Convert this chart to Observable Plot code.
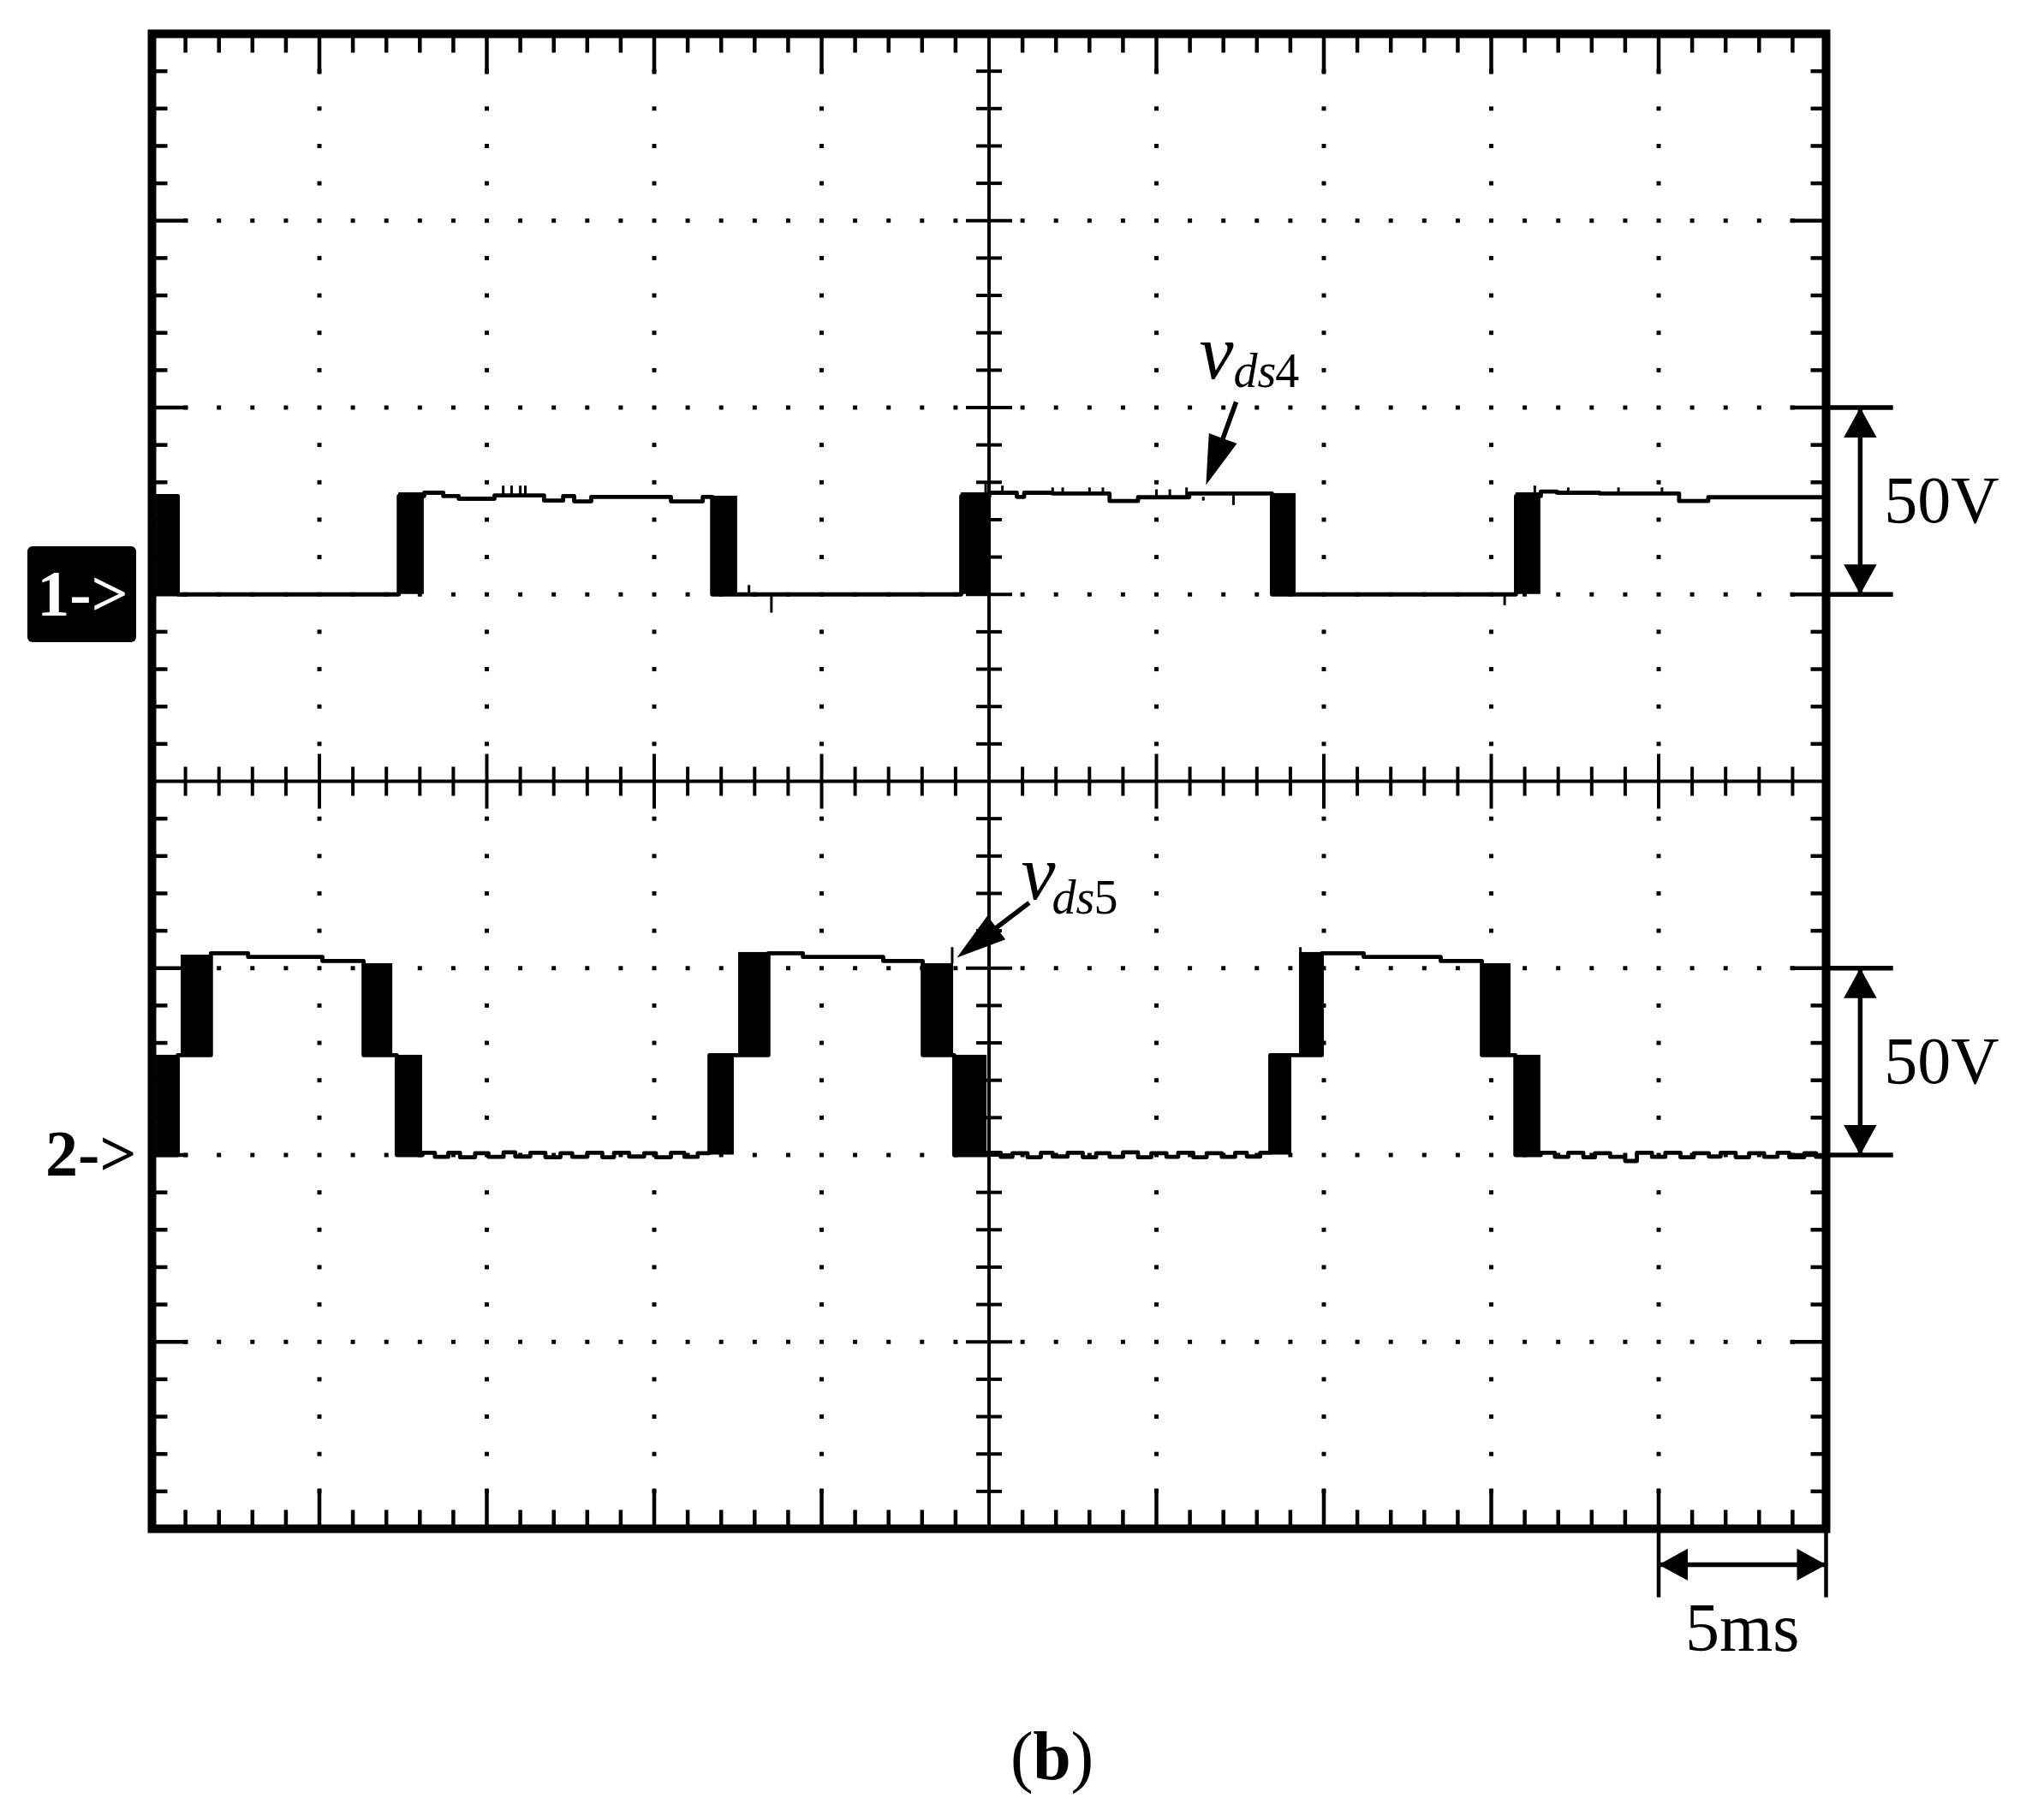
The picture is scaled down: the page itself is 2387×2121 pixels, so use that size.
<!DOCTYPE html>
<html>
<head>
<meta charset="utf-8">
<script src="https://cdn.jsdelivr.net/npm/d3@7"></script>
<script src="https://cdn.jsdelivr.net/npm/@observablehq/plot@0.6"></script>
<style>
  html, body { margin: 0; padding: 0; background: #fff; }
  svg { display: block; }
</style>
</head>
<body>
<div id="chart"></div>
<script>
// ---------------- DATA (time in ms, voltage in V) ----------------
const VOLTS_PER_DIV = 50;
const MS_PER_DIV = 5;
const CH1_GROUND = 5;   // division (from bottom) of channel 1 reference
const CH2_GROUND = 2;   // division (from bottom) of channel 2 reference

// channel 1 (v_ds4) trace, step-after
const ch1Time = [0, 0.77, 7.37, 8.13, 8.70, 9.16, 10.23, 11.71, 12.28, 12.61, 13.12, 15.50, 16.45, 16.73, 24.17, 25.01, 25.83, 26.05, 26.89, 28.6, 29.45, 30.98, 33.45, 40.74, 41.48, 41.96, 43.23, 45.61, 46.48, 50];
const ch1Volt = [26.3, 0, 26.3, 27.2, 26.3, 25.6, 26.5, 25.1, 26.3, 24.9, 26.1, 24.9, 26.1, 0, 26.3, 27.2, 26.1, 27.2, 27.0, 25.0, 26.0, 27.0, 0, 26.3, 27.5, 27.2, 27.0, 25.0, 26.0, 26.0];
// channel 1 switching bands
const ch1BandStart = [0.13, 7.37, 16.73, 24.17, 33.45, 40.74];
const ch1BandEnd   = [0.77, 8.13, 17.49, 25.01, 34.17, 41.48];
const ch1BandLow   = [0, 0, 0, 0, 0, 0];
const ch1BandHigh  = [26.5, 27.2, 26.3, 27.2, 27.0, 27.2];
// channel 1 glitches
const ch1GlitchTime = [10.49, 10.74, 11.0, 11.15, 24.9, 25.4, 26.9, 27.2, 28.0, 28.4, 30.0, 30.4, 30.9, 41.3, 42.3, 43.8, 45.1, 17.83, 18.5, 40.4, 32.3, 31.4];
const ch1GlitchFrom = [26.5, 26.5, 26.5, 26.5, 27.0, 27.0, 27.0, 27.0, 27.0, 27.0, 26.0, 26.0, 26.0, 27.2, 27.2, 27.0, 27.0, 0, 0, 0, 27.0, 26.0];
const ch1GlitchTo   = [29.0, 29.0, 29.0, 29.0, 29.5, 29.0, 28.5, 28.5, 28.5, 28.5, 28.0, 28.0, 28.5, 29.0, 28.5, 28.5, 28.5, 2.4, -5.0, -3.0, 23.8, 25.0];

// channel 2 (v_ds5) trace, step-after (includes the ripple read on the zero level)
const ch2Time = [0, 0.77, 1.76, 2.87, 5.09, 6.32, 7.31,
  8.08, 8.45, 8.85, 9.2, 9.65, 10.05, 10.5, 10.85, 11.3, 11.75, 12.2, 12.55, 13.0, 13.45, 13.8, 14.25, 14.7, 15.05, 15.5, 15.9, 16.3,
  16.65, 18.41, 19.44, 21.84, 23.02, 23.96,
  24.94, 25.35, 25.7, 26.15, 26.55, 26.9, 27.35, 27.8, 28.2, 28.6, 29.0, 29.45, 29.85, 30.3, 30.65, 31.1, 31.5, 31.95, 32.35, 32.7, 33.1,
  33.40, 34.94, 36.19, 38.49, 39.72, 40.72,
  41.48, 41.9, 42.3, 42.75, 43.1, 43.55, 44.0, 44.35, 44.8, 45.2, 45.65, 46.05, 46.5, 46.85, 47.3, 47.7, 48.15, 48.55, 48.9, 49.35, 49.7, 50];
const ch2Volt = [0, 26.7, 54.0, 53.0, 51.9, 26.7, 0,
  0.6, -0.5, 0.6, -0.6, 0.5, -0.5, 0.7, -0.4, 0.6, -0.6, 0.5, -0.5, 0.6, -0.6, 0.6, -0.4, 0.5, -0.6, 0.6, -0.5, 0.5,
  26.7, 54.0, 53.0, 51.9, 26.7, 0,
  0.6, -0.5, 0.5, -0.6, 0.6, -0.4, 0.6, -0.6, 0.5, -0.5, 0.7, -0.6, 0.5, -0.5, 0.6, -0.6, 0.5, -0.5, 0.6, -0.4, 0.6,
  26.7, 54.0, 53.0, 51.9, 26.7, 0,
  0.6, -0.5, 0.6, -0.6, 0.5, -0.5, -1.6, 0.6, -0.5, 0.6, -0.6, 0.5, -0.4, 0.6, -0.6, 0.5, -0.5, 0.6, -0.6, 0.5, -0.5, -0.5];
// channel 2 switching bands
const ch2BandStart = [0.13, 0.87, 6.32, 7.31, 16.65, 17.52, 23.02, 23.96, 33.40, 34.27, 39.72, 40.72];
const ch2BandEnd   = [0.77, 1.76, 7.19, 8.08, 17.39, 18.41, 23.94, 24.94, 34.04, 34.93, 40.59, 41.48];
const ch2BandLow   = [0, 26.7, 26.7, 0, 0, 26.7, 26.7, 0, 0, 26.7, 26.7, 0];
const ch2BandHigh  = [26.7, 53.5, 51.2, 26.7, 26.7, 54.2, 51.2, 26.7, 26.7, 54.2, 51.2, 26.7];
const ch2GlitchTime = [23.9, 34.3];
const ch2GlitchFrom = [51.2, 51.2];
const ch2GlitchTo   = [55.5, 55.5];

// annotation texts
const labelV = "v";
const labelSub = ["ds", "ds"];
const labelIndex = ["4", "5"];
const scaleVoltText = "50V";
const scaleTimeText = "5ms";
const channelTags = ["1->", "2->"];
const figureTag = ["(", "b", ")"];

// ---------------- helpers ----------------
const y1div = v => CH1_GROUND + v / VOLTS_PER_DIV;
const y2div = v => CH2_GROUND + v / VOLTS_PER_DIV;

const ch1 = ch1Time.map((t, i) => ({t, y: y1div(ch1Volt[i])}));
const ch2 = ch2Time.map((t, i) => ({t, y: y2div(ch2Volt[i])}));
const bands = [
  ...ch1BandStart.map((s, i) => ({x1: s, x2: ch1BandEnd[i], y1: y1div(ch1BandLow[i]), y2: y1div(ch1BandHigh[i])})),
  ...ch2BandStart.map((s, i) => ({x1: s, x2: ch2BandEnd[i], y1: y2div(ch2BandLow[i]), y2: y2div(ch2BandHigh[i])}))
];
const glitches = [
  ...ch1GlitchTime.map((t, i) => ({t, y1: y1div(ch1GlitchFrom[i]), y2: y1div(ch1GlitchTo[i])})),
  ...ch2GlitchTime.map((t, i) => ({t, y1: y2div(ch2GlitchFrom[i]), y2: y2div(ch2GlitchTo[i])}))
];

// graticule (10 x 8 divisions, 5 minor per division)
const XMAX = 10 * MS_PER_DIV, YMAX = 8;
const minorX = d3.range(1, 50).map(i => i * MS_PER_DIV / 5);
const minorY = d3.range(1, 40).map(i => i / 5);
const isMajX = x => Math.abs(x / MS_PER_DIV - Math.round(x / MS_PER_DIV)) < 1e-6;
const isMajY = y => Math.abs(y - Math.round(y)) < 1e-6;
const majorXs = minorX.filter(isMajX).filter(x => x !== 25);
const majorYs = minorY.filter(isMajY).filter(y => y !== 4);
const gridDots = [
  ...majorYs.flatMap(y => minorX.filter(x => x !== 25).map(x => ({x, y}))),
  ...majorXs.flatMap(x => minorY.filter(y => !isMajY(y)).map(y => ({x, y})))
];
const xTicks = minorX.filter(x => x !== 25).map(x => ({x, major: isMajX(x)}));
const yTicks = minorY.filter(y => y !== 4).map(y => ({y, major: isMajY(y)}));

// custom symbols
const seg = (ax, ay, bx, by) => ({draw(ctx, size) {
  const r = Math.sqrt(size / Math.PI);
  ctx.moveTo(ax * r, ay * r); ctx.lineTo(bx * r, by * r);
}});
const tickDown = seg(0, 0, 0, 1), tickUp = seg(0, 0, 0, -1);
const tickRight = seg(0, 0, 1, 0), tickLeft = seg(0, 0, -1, 0);
const tickV = seg(0, -1, 0, 1), tickH = seg(-1, 0, 1, 0);
const head = (deg, w) => {
  const a = deg * Math.PI / 180, c = Math.cos(a), s = Math.sin(a);
  return {draw(ctx, size) {
    const r = Math.sqrt(size / Math.PI);
    const p = [[0, 0], [-w / 2, 1], [w / 2, 1]].map(([x, y]) => [(x * c - y * s) * r, (x * s + y * c) * r]);
    ctx.moveTo(p[0][0], p[0][1]); ctx.lineTo(p[1][0], p[1][1]); ctx.lineTo(p[2][0], p[2][1]); ctx.closePath();
  }};
};

// annotation anchors (in ms / divisions)
const vds4Arrow = {x1: 32.38, y1: 6.03, x2: 31.48, y2: 5.585};
const vds5Arrow = {x1: 26.20, y1: 3.35, x2: 24.04, y2: 3.056};
const shaft = a => ({x1: a.x1, y1: a.y1, x2: a.x1 + 0.75 * (a.x2 - a.x1), y2: a.y1 + 0.75 * (a.y2 - a.y1)});
const angle = (a, kx, ky) => {
  const dx = (a.x2 - a.x1) * kx, dy = -(a.y2 - a.y1) * ky;
  return Math.atan2(dx, -dy) * 180 / Math.PI;
};

const W = 2387, H = 2121;
const mL = 177, mR = 255, mT = 39, mB = 336;
const kx = (W - mL - mR) / XMAX, ky = (H - mT - mB) / YMAX;

const serif = "Liberation Serif, Times New Roman, serif";

const chart = Plot.plot({
  width: W, height: H,
  marginLeft: mL, marginRight: mR, marginTop: mT, marginBottom: mB,
  x: {domain: [0, XMAX], axis: null},
  y: {domain: [0, YMAX], axis: null},
  style: {background: "white", fontFamily: serif, overflow: "visible"},
  marks: [
    // dotted graticule
    Plot.dot(gridDots, {x: "x", y: "y", symbol: "square", r: 2.8, fill: "black"}),
    // border ticks
    Plot.dot(xTicks.filter(d => !d.major), {x: "x", y: () => YMAX, symbol: tickDown, r: 22, stroke: "black", strokeWidth: 4.5, fill: "none"}),
    Plot.dot(xTicks.filter(d => d.major), {x: "x", y: () => YMAX, symbol: tickDown, r: 47, stroke: "black", strokeWidth: 4.5, fill: "none"}),
    Plot.dot(xTicks.filter(d => !d.major), {x: "x", y: () => 0, symbol: tickUp, r: 22, stroke: "black", strokeWidth: 4.5, fill: "none"}),
    Plot.dot(xTicks.filter(d => d.major), {x: "x", y: () => 0, symbol: tickUp, r: 47, stroke: "black", strokeWidth: 4.5, fill: "none"}),
    Plot.dot(yTicks.filter(d => !d.major), {x: () => 0, y: "y", symbol: tickRight, r: 18, stroke: "black", strokeWidth: 4.5, fill: "none"}),
    Plot.dot(yTicks.filter(d => d.major), {x: () => 0, y: "y", symbol: tickRight, r: 42, stroke: "black", strokeWidth: 4.5, fill: "none"}),
    Plot.dot(yTicks.filter(d => !d.major), {x: () => XMAX, y: "y", symbol: tickLeft, r: 18, stroke: "black", strokeWidth: 4.5, fill: "none"}),
    Plot.dot(yTicks.filter(d => d.major), {x: () => XMAX, y: "y", symbol: tickLeft, r: 42, stroke: "black", strokeWidth: 4.5, fill: "none"}),
    // centre axes
    Plot.ruleY([4], {stroke: "black", strokeWidth: 4}),
    Plot.ruleX([25], {stroke: "black", strokeWidth: 4}),
    Plot.dot(xTicks.filter(d => !d.major), {x: "x", y: () => 4, symbol: tickV, r: 17, stroke: "black", strokeWidth: 4, fill: "none"}),
    Plot.dot(xTicks.filter(d => d.major), {x: "x", y: () => 4, symbol: tickV, r: 32, stroke: "black", strokeWidth: 4, fill: "none"}),
    Plot.dot(yTicks.filter(d => !d.major), {x: () => 25, y: "y", symbol: tickH, r: 15, stroke: "black", strokeWidth: 4, fill: "none"}),
    Plot.dot(yTicks.filter(d => d.major), {x: () => 25, y: "y", symbol: tickH, r: 27, stroke: "black", strokeWidth: 4, fill: "none"}),
    // traces
    Plot.line(ch1, {x: "t", y: "y", curve: "step-after", stroke: "black", strokeWidth: 4.8}),
    Plot.line(ch2, {x: "t", y: "y", curve: "step-after", stroke: "black", strokeWidth: 4.8}),
    Plot.rect(bands, {x1: "x1", x2: "x2", y1: "y1", y2: "y2", fill: "black"}),
    Plot.ruleX(glitches, {x: "t", y1: "y1", y2: "y2", stroke: "black", strokeWidth: 3}),
    // frame
    Plot.frame({stroke: "black", strokeWidth: 10}),
    // v_ds4 / v_ds5 labels and arrows
    Plot.text([{x: 31.28, y: 6.158}], {x: "x", y: "y", text: () => labelV, fontSize: 90, fontStyle: "italic", textAnchor: "start", lineAnchor: "bottom", fill: "black"}),
    Plot.text([{x: 32.30, y: 6.108}], {x: "x", y: "y", text: () => labelSub[0], fontSize: 56, fontStyle: "italic", textAnchor: "start", lineAnchor: "bottom", fill: "black"}),
    Plot.text([{x: 33.55, y: 6.108}], {x: "x", y: "y", text: () => labelIndex[0], fontSize: 56, textAnchor: "start", lineAnchor: "bottom", fill: "black"}),
    Plot.text([{x: 25.96, y: 3.368}], {x: "x", y: "y", text: () => labelV, fontSize: 90, fontStyle: "italic", textAnchor: "start", lineAnchor: "bottom", fill: "black"}),
    Plot.text([{x: 26.88, y: 3.294}], {x: "x", y: "y", text: () => labelSub[1], fontSize: 56, fontStyle: "italic", textAnchor: "start", lineAnchor: "bottom", fill: "black"}),
    Plot.text([{x: 28.13, y: 3.294}], {x: "x", y: "y", text: () => labelIndex[1], fontSize: 56, textAnchor: "start", lineAnchor: "bottom", fill: "black"}),
    Plot.link([shaft(vds4Arrow), shaft(vds5Arrow)], {x1: "x1", y1: "y1", x2: "x2", y2: "y2", stroke: "black", strokeWidth: 5.5}),
    Plot.dot([vds4Arrow], {x: "x2", y: "y2", symbol: head(angle(vds4Arrow, kx, ky), 0.6), r: 58, fill: "black"}),
    Plot.dot([vds5Arrow], {x: "x2", y: "y2", symbol: head(angle(vds5Arrow, kx, ky), 0.6), r: 58, fill: "black"}),
    // 50V scale markers
    Plot.link([{y: 6}, {y: 5}, {y: 3}, {y: 2}], {x1: () => XMAX, x2: () => 52.0, y1: "y", y2: "y", stroke: "black", strokeWidth: 5.5}),
    Plot.link([{y1: 5, y2: 6}, {y1: 2, y2: 3}], {x1: () => 51.02, x2: () => 51.02, y1: "y1", y2: "y2", stroke: "black", strokeWidth: 5.5}),
    Plot.dot([{y: 6}, {y: 3}], {x: () => 51.02, y: "y", symbol: head(0, 1.1), r: 35, fill: "black"}),
    Plot.dot([{y: 5}, {y: 2}], {x: () => 51.02, y: "y", symbol: head(180, 1.1), r: 35, fill: "black"}),
    Plot.text([{y: 5.5}, {y: 2.5}], {x: () => 53.45, y: "y", text: () => scaleVoltText, fontSize: 78, textAnchor: "middle", lineAnchor: "middle", fill: "black"}),
    // 5ms scale marker
    Plot.link([{x: 45}, {x: 50}], {x1: "x", x2: "x", y1: () => 0, y2: () => -0.367, stroke: "black", strokeWidth: 4.5}),
    Plot.link([{x1: 45, x2: 50}], {x1: "x1", x2: "x2", y1: () => -0.192, y2: () => -0.192, stroke: "black", strokeWidth: 5.5}),
    Plot.dot([{x: 45}], {x: "x", y: () => -0.192, symbol: head(270, 1.1), r: 34, fill: "black"}),
    Plot.dot([{x: 50}], {x: "x", y: () => -0.192, symbol: head(90, 1.1), r: 34, fill: "black"}),
    Plot.text([{x: 47.5, y: -0.651}], {x: "x", y: "y", text: () => scaleTimeText, fontSize: 80, textAnchor: "middle", lineAnchor: "bottom", fill: "black"}),
    // channel markers
    Plot.rect([{x1: -3.71, x2: -0.46, y1: 4.742, y2: 5.256}], {x1: "x1", x2: "x2", y1: "y1", y2: "y2", fill: "black", rx: 6}),
    Plot.text([{x: -2.07, y: CH1_GROUND}], {x: "x", y: "y", text: () => channelTags[0], fontSize: 76, fontWeight: "bold", textAnchor: "middle", lineAnchor: "middle", fill: "white"}),
    Plot.text([{x: -0.46, y: CH2_GROUND}], {x: "x", y: "y", text: () => channelTags[1], fontSize: 76, fontWeight: "bold", textAnchor: "end", lineAnchor: "middle", fill: "black"}),
    // figure tag
    Plot.text([{x: 26.32, y: -1.342}], {x: "x", y: "y", text: () => figureTag[0], fontSize: 80, textAnchor: "end", lineAnchor: "bottom", fill: "black"}),
    Plot.text([{x: 26.88, y: -1.342}], {x: "x", y: "y", text: () => figureTag[1], fontSize: 80, fontWeight: "bold", textAnchor: "middle", lineAnchor: "bottom", fill: "black"}),
    Plot.text([{x: 27.44, y: -1.342}], {x: "x", y: "y", text: () => figureTag[2], fontSize: 80, textAnchor: "start", lineAnchor: "bottom", fill: "black"})
  ]
});
document.getElementById("chart").appendChild(chart);
</script>
</body>
</html>
